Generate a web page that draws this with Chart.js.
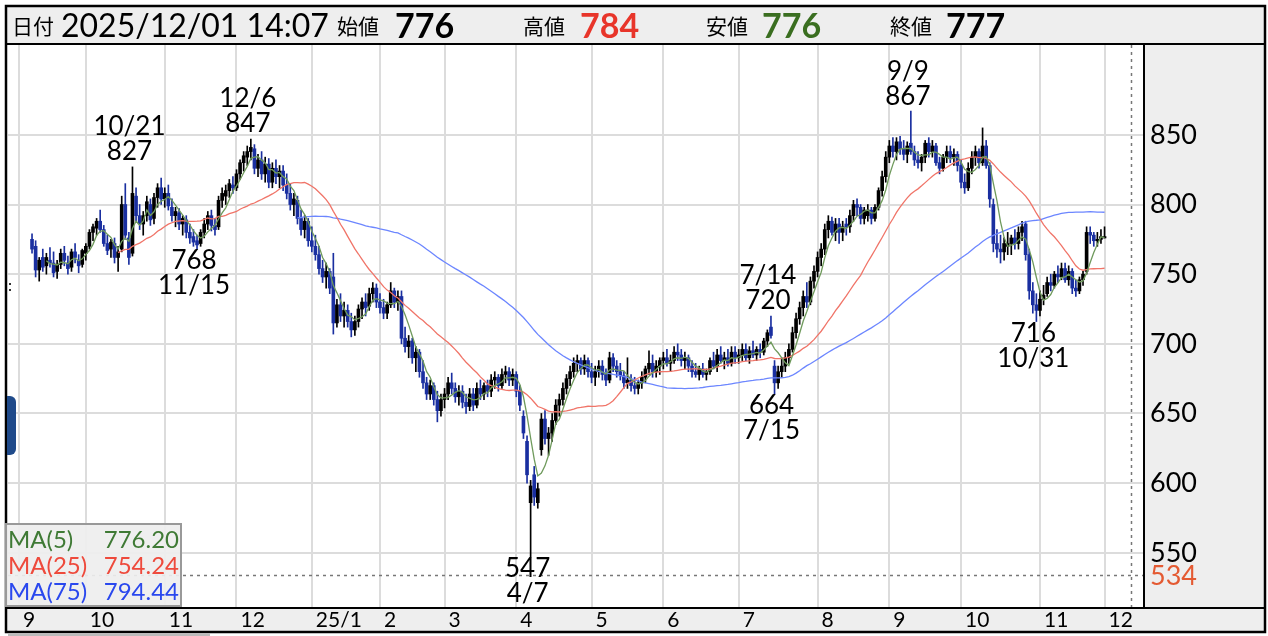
<!DOCTYPE html>
<html lang="ja">
<head>
<meta charset="utf-8">
<script src="https://cdn.jsdelivr.net/npm/chart.js@4.4.1/dist/chart.umd.min.js"></script>
<style>
  body { margin: 0; background: #fff; font-family: Lato, "Noto Sans CJK JP", sans-serif; }
  #wrap { position: relative; width: 1268px; height: 636px; overflow: hidden; }
  #cv { position: absolute; left: 0; top: 0; }
  .hd { position: absolute; top: 6px; height: 38px; line-height: 38px; white-space: nowrap; color: #000; }
  .kj { font-size: 21px; font-family: "Noto Sans CJK JP", sans-serif; }
  .dt { font-size: 32px; }
  .vl { font-size: 34px; font-weight: bold; }
  #leg { position: absolute; left: 5px; top: 523px; width: 173px; height: 80px; border: 2px solid #999;
         background: rgba(238,238,238,0.92); font-size: 24px; }
  #leg div { position: absolute; left: 1px; right: 1px; height: 27px; line-height: 27px; }
  #leg span.v { position: absolute; right: 0; }
  #scroll { position: absolute; left: 8px; top: 633px; width: 202px; height: 3px; background: #bbb; }
</style>
</head>
<body>
<div id="wrap">
  <canvas id="cv" width="1268" height="636"></canvas>
  <div class="hd kj" style="left:12px">日付</div>
  <div class="hd dt" style="left:61px">2025/12/01 14:07</div>
  <div class="hd kj" style="left:337px">始値</div>
  <div class="hd vl" style="left:395px" id="h-open"></div>
  <div class="hd kj" style="left:523px">高値</div>
  <div class="hd vl" style="left:580px;color:#e8352a" id="h-high"></div>
  <div class="hd kj" style="left:706px">安値</div>
  <div class="hd vl" style="left:762px;color:#3a6e20" id="h-low"></div>
  <div class="hd kj" style="left:890px">終値</div>
  <div class="hd vl" style="left:946px" id="h-close"></div>
  <div id="leg"></div>
  <div id="scroll"></div>
</div>
<script>
// ─────────────────────────────────────────────────────────────────────────────
// Candles diários (set/2024 → 01/12/2025) com médias móveis 5/25/75
// ─────────────────────────────────────────────────────────────────────────────

// ── DADOS ─────────────────────────────────────────────────────────────────────

const opens = [
  775,770,753,762,756,760,758,752,757,765, 758,755,766,760,757,765,770,780,783,788,
  782,772,768,772,762,768,800,776,765,806, 792,786,792,800,790,805,812,804,808,798,
  792,794,786,789,780,777,774,772,780,786, 792,785,784,803,806,810,814,812,822,830,
  834,838,840,826,832,822,829,816,826,820, 824,814,808,800,803,790,782,788,774,770,
  764,754,748,752,748,715,728,720,724,716, 710,716,725,730,727,736,740,730,726,722,
  728,738,730,734,704,698,702,690,694,680, 672,664,670,660,652,660,664,672,668,662,
  666,658,655,664,656,668,664,670,666,674, 676,670,678,680,674,678,666,648,630,586,
  606,586,624,646,632,636,645,656,660,668, 675,680,686,688,682,688,680,676,680,684,
  678,674,690,684,680,677,672,674,670,668, 672,676,682,686,680,684,688,690,686,688,
  694,692,688,690,684,680,678,682,678,680, 688,684,692,688,690,686,694,690,692,696,
  690,695,692,696,694,702,712,684,672,680, 684,690,696,708,718,726,734,730,745,752,
  762,768,782,788,780,786,780,786,784,792, 800,798,790,792,796,790,798,810,820,834,
  842,838,845,840,836,844,838,832,830,834, 844,838,842,830,826,834,838,834,836,828,
  816,812,826,834,838,830,842,828,800,772, 768,766,770,772,776,772,780,786,764,738,
  728,724,732,736,744,742,750,748,754,746, 752,740,738,746,752,780,778,774,775,776
]
const highs = [
  779,774,762,768,765,769,766,760,768,770, 763,768,772,764,768,772,782,786,790,796,
  785,778,775,776,770,806,815,780,827,812, 800,795,806,804,808,815,819,812,814,804,
  798,797,792,792,786,782,778,782,790,795, 796,790,806,812,814,818,820,825,832,838,
  842,847,843,836,838,834,833,830,832,828, 828,822,815,808,806,796,792,790,784,778,
  770,760,758,754,765,732,736,730,728,722, 720,728,733,736,740,744,743,736,732,730,
  744,740,738,738,712,706,704,698,696,688, 676,674,672,666,664,668,676,679,672,670,
  670,664,668,668,672,674,672,674,678,680, 678,682,684,683,682,680,670,652,634,602,
  612,600,650,652,640,650,660,664,672,678, 684,690,692,690,692,690,686,684,688,688,
  682,694,693,688,686,680,690,678,676,674, 680,684,695,692,688,690,694,696,692,698,
  700,696,694,692,688,686,684,686,682,690, 694,696,698,694,696,698,698,696,700,700,
  698,702,698,700,704,710,720,688,684,690, 694,700,712,722,730,738,744,748,756,766,
  772,786,792,791,790,790,788,790,796,803, 804,800,798,800,798,800,812,824,838,846,
  848,848,849,846,845,867,842,838,836,846, 848,846,844,834,836,842,842,840,838,832,
  822,830,838,842,840,855,846,830,804,782, 778,776,780,778,782,784,788,788,768,744,
  736,738,742,748,750,752,756,758,758,756, 754,746,748,752,784,784,780,780,782,784
]
const lows = [
  765,748,745,752,750,755,748,747,754,756, 750,752,758,751,755,760,768,774,778,780,
  770,764,762,758,752,766,775,757,763,788, 782,778,788,785,786,798,800,798,796,788,
  784,782,778,776,772,770,768,770,776,782, 781,778,782,798,800,805,808,810,818,824,
  828,832,822,820,818,816,812,812,815,812, 810,804,796,792,786,778,776,770,766,760,
  750,744,740,736,707,712,716,712,712,705, 706,712,718,720,724,730,726,722,718,718,
  726,726,724,700,694,690,686,680,676,668, 660,660,656,644,648,654,660,664,658,656,
  654,650,652,652,654,660,660,662,662,668, 666,668,672,670,670,662,652,632,600,547,
  584,582,620,628,620,630,642,648,656,664, 670,676,680,678,678,676,672,670,676,674,
  670,672,680,676,674,668,668,666,664,664, 668,672,678,676,676,678,682,684,680,686,
  688,684,682,680,676,676,674,676,674,678, 682,680,686,682,684,684,686,686,688,688,
  686,690,688,690,692,698,704,664,668,676, 680,686,694,704,714,720,726,728,740,748,
  756,764,776,778,774,772,774,778,780,788, 792,786,786,788,786,788,796,806,816,830,
  834,832,836,832,830,836,828,826,824,830, 834,834,828,822,824,830,830,828,824,812,
  808,810,822,828,826,828,826,798,766,762, 758,760,764,764,768,768,774,760,732,722,
  716,720,728,734,738,740,744,746,744,742, 736,734,736,742,750,772,770,770,772,776
]
const closes = [
  768,753,760,755,762,758,751,757,765,760, 754,766,762,756,767,770,780,784,788,782,
  772,767,773,762,766,800,778,762,808,792, 786,792,802,789,805,812,804,808,799,792,
  795,786,790,780,776,773,771,780,786,792, 785,782,803,808,810,815,812,822,830,835,
  838,841,826,832,822,829,816,826,820,824, 814,808,800,804,790,782,788,774,770,764,
  754,748,752,740,715,728,720,724,716,710, 716,725,730,726,736,740,730,726,722,728,
  738,730,734,704,698,702,690,694,680,672, 664,670,660,652,660,664,672,668,662,666,
  658,655,664,656,668,664,670,666,674,676, 670,678,680,674,678,666,656,636,606,598,
  590,596,646,632,636,645,656,660,668,675, 680,686,688,682,688,680,676,680,684,678,
  674,690,684,680,677,672,674,670,668,672, 676,682,686,680,684,688,690,686,688,694,
  692,688,690,684,680,678,682,678,680,688, 684,692,688,690,686,694,690,692,696,690,
  695,692,696,694,702,708,706,672,680,684, 690,696,708,718,726,734,730,745,752,762,
  768,782,788,780,786,780,784,784,792,800, 798,790,796,796,790,798,810,820,834,842,
  838,845,840,836,842,838,832,830,834,844, 838,842,830,826,834,838,834,836,828,816,
  812,826,834,838,830,842,828,804,772,768, 766,772,772,776,772,780,784,764,738,728,
  724,732,735,744,742,750,748,754,746,752, 740,738,746,750,780,778,774,775,777,777
]

// Meses: índice do 1º pregão de cada mês e rótulo do eixo
const monthIdx    = [-3.6, 15, 37, 57, 78, 97, 115, 135, 156, 176, 197, 219, 239, 259, 281, 299]
const monthLabels = ['9','10','11','12','25/1','2','3','4','5','6','7','8','9','10','11','12']
const priceTicks  = [550, 600, 650, 700, 750, 800, 850]

const refPrice  = 534    // linha tracejada horizontal + rótulo vermelho
const cursorIdx = 306.4  // linha pontilhada vertical à direita

// Máximas / mínimas marcadas no gráfico
const annotIdx  = [28, 61, 245, 206, 46, 139, 207, 280]
const annotDate = ['10/21', '12/6', '9/9', '7/14', '11/15', '4/7', '7/15', '10/31']
const annotSide = ['high', 'high', 'high', 'high', 'low', 'low', 'low', 'low']

const maPeriods = [5, 25, 75]
const maLine    = ['#6f9a5c', '#f07468', '#6c86ff']
const maText    = ['#3f7a35', '#ee4a3c', '#2a48ee']

const UP_COLOR   = '#000000'
const DOWN_COLOR = '#1a2fa0'
const FONT       = 'Lato, "Noto Sans CJK JP", sans-serif'

// ── MÉDIAS MÓVEIS ─────────────────────────────────────────────────────────────

function sma(arr, n) {
  return arr.map((_, i) => {
    if (i < n - 1) return null
    let s = 0
    for (let k = i - n + 1; k <= i; k++) s += arr[k]
    return s / n
  })
}
const maSeries = maPeriods.map(n => sma(closes, n))

// ── CABEÇALHO E LEGENDA ───────────────────────────────────────────────────────

const last = closes.length - 1
document.getElementById('h-open').textContent  = opens[last]
document.getElementById('h-high').textContent  = highs[last]
document.getElementById('h-low').textContent   = lows[last]
document.getElementById('h-close').textContent = closes[last]

document.getElementById('leg').innerHTML = maPeriods.map((n, k) => `
  <div style="top:${0 + k * 26}px;color:${maText[k]}">MA(${n})<span class="v">${maSeries[k][last].toFixed(2)}</span></div>`
).join('')

// ── PLUGIN: molduras, linhas de referência e anotações ───────────────────────

const framePlugin = {
  id: 'frame',
  beforeDraw(chart) {
    const { ctx, chartArea: a } = chart
    ctx.save()
    ctx.fillStyle = '#fff'
    ctx.fillRect(0, 0, chart.width, chart.height)
    ctx.fillStyle = '#eeeeee'
    ctx.fillRect(6, 6, 1259, a.top - 6)                              // cabeçalho
    ctx.fillRect(a.right, a.top, 1265 - a.right, a.bottom - a.top)   // painel de preços
    ctx.fillRect(6, a.bottom, 1259, 632 - a.bottom)                  // faixa dos meses
    ctx.restore()
  },
  beforeDatasetsDraw(chart) {
    const { ctx, chartArea: a, scales: { x, y } } = chart
    ctx.save()
    ctx.strokeStyle = '#777'
    ctx.lineWidth = 1.5
    ctx.setLineDash([3, 4])
    const yr = Math.round(y.getPixelForValue(refPrice)) + 0.5
    ctx.beginPath(); ctx.moveTo(a.left, yr); ctx.lineTo(a.right, yr); ctx.stroke()
    const xc = Math.round(x.getPixelForValue(cursorIdx)) + 0.5
    ctx.beginPath(); ctx.moveTo(xc, a.top); ctx.lineTo(xc, a.bottom); ctx.stroke()
    ctx.restore()
  },
  afterDraw(chart) {
    const { ctx, chartArea: a, scales: { x, y } } = chart
    ctx.save()

    // Máximas e mínimas: data + valor
    ctx.fillStyle = '#000'
    ctx.font = `26px ${FONT}`
    ctx.textAlign = 'center'
    ctx.textBaseline = 'middle'
    annotIdx.forEach((i, k) => {
      const hi = annotSide[k] === 'high'
      const v  = hi ? highs[i] : lows[i]
      const px = x.getPixelForValue(i) - 3
      const py = y.getPixelForValue(v)
      if (hi) {
        ctx.fillText(String(v), px, py - 15)
        ctx.fillText(annotDate[k], px, py - 40)
      } else {
        ctx.fillText(String(v), px, py + 12)
        ctx.fillText(annotDate[k], px, py + 37)
      }
    })

    // Rótulo do preço de referência no eixo
    ctx.textAlign = 'left'
    ctx.font = `27px ${FONT}`
    ctx.fillStyle = '#e45a32'
    ctx.fillText(String(refPrice), a.right + 6, y.getPixelForValue(refPrice) + 1)

    // Bordas
    ctx.strokeStyle = '#000'
    ctx.lineWidth = 2.5
    ctx.strokeRect(6, 6, 1259, 626)
    ctx.lineWidth = 2
    ctx.beginPath()
    ctx.moveTo(6, a.top - 1);  ctx.lineTo(1265, a.top - 1)
    ctx.moveTo(6, a.bottom + 1); ctx.lineTo(1265, a.bottom + 1)
    ctx.moveTo(a.right, a.top); ctx.lineTo(a.right, a.bottom)
    ctx.stroke()

    // Alça azul na borda esquerda
    ctx.fillStyle = '#1f4a8a'
    ctx.beginPath()
    ctx.roundRect(7, 396, 9, 59, [0, 6, 6, 0])
    ctx.fill()
    ctx.fillStyle = '#333'
    ctx.fillRect(9, 283, 2, 2); ctx.fillRect(9, 289, 2, 2)
    ctx.restore()
  }
}

// ── CHART ─────────────────────────────────────────────────────────────────────

const candleColors = closes.map((c, i) => c >= opens[i] ? UP_COLOR : DOWN_COLOR)

new Chart(document.getElementById('cv'), {
  type: 'bar',
  plugins: [framePlugin],
  data: {
    datasets: [
      ...maSeries.map((s, k) => ({
        type: 'line',
        data: s.map((v, i) => ({ x: i, y: v })),
        borderColor: maLine[k], borderWidth: 1.3,
        pointRadius: 0, tension: 0, order: 0
      })),
      {
        data: highs.map((h, i) => ({ x: i, y: [lows[i], h] })),
        backgroundColor: candleColors, barThickness: 1, grouped: false, order: 2
      },
      {
        data: opens.map((o, i) => ({ x: i, y: [Math.min(o, closes[i]), Math.max(o, closes[i])] })),
        backgroundColor: candleColors, barThickness: 3, minBarLength: 1, grouped: false, order: 1
      }
    ]
  },
  options: {
    responsive: false, animation: false, devicePixelRatio: 1,
    layout: { padding: { left: 8, right: 3, top: 45, bottom: 4 } },
    plugins: { legend: { display: false }, tooltip: { enabled: false } },
    scales: {
      x: {
        type: 'linear', min: -6.7, max: 310, offset: false,
        grid: { color: '#dcdcdc', lineWidth: 2, drawTicks: false, offset: false },
        border: { display: false },
        afterBuildTicks: s => { s.ticks = monthIdx.map(v => ({ value: v })) },
        afterFit: s => { s.height = 25 },
        ticks: {
          autoSkip: false, maxRotation: 0, align: 'start', labelOffset: 4, padding: 1,
          color: '#000', font: { family: FONT, size: 21 },
          callback: (v, i) => monthLabels[i]
        }
      },
      y: {
        position: 'right', min: 511.1, max: 914.5,
        grid: { color: '#dcdcdc', lineWidth: 2, drawTicks: false },
        border: { display: false },
        afterBuildTicks: s => { s.ticks = priceTicks.map(v => ({ value: v })) },
        afterFit: s => { s.width = 121 },
        ticks: { padding: 6, color: '#000', font: { family: FONT, size: 27 }, callback: v => v }
      }
    }
  }
})
</script>
</body>
</html>
